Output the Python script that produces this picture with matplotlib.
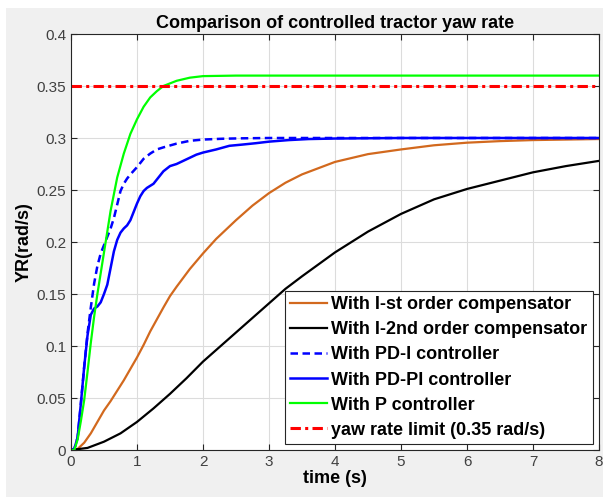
import matplotlib
matplotlib.use("Agg")
import matplotlib.pyplot as plt
from matplotlib.patches import Rectangle

plt.rcParams['font.family'] = ['Liberation Sans', 'DejaVu Sans']

# I-st order compensator
t_first = [0, 0.1, 0.2, 0.3, 0.4, 0.5, 0.6, 0.7, 0.8, 0.9, 1.0, 1.1, 1.2, 1.4, 1.5, 1.6, 1.8,
           2.0, 2.2, 2.5, 2.75, 3.0, 3.25, 3.5, 4.0, 4.5, 5.0, 5.5, 6.0, 6.5, 7.0, 8.0]
yr_first = [0, 0.001, 0.007, 0.016, 0.027, 0.038, 0.047, 0.057, 0.067, 0.078, 0.089, 0.101, 0.114,
            0.137, 0.148, 0.157, 0.174, 0.189, 0.203, 0.221, 0.235, 0.247, 0.257, 0.265, 0.277,
            0.2845, 0.289, 0.293, 0.2955, 0.297, 0.298, 0.299]

# I-2nd order compensator
t_second = [0, 0.25, 0.5, 0.75, 1.0, 1.25, 1.5, 1.75, 2.0, 2.25, 2.5, 2.75, 3.0, 3.25, 3.5,
            4.0, 4.5, 5.0, 5.5, 6.0, 6.5, 7.0, 7.5, 8.0]
yr_second = [0, 0.002, 0.008, 0.016, 0.027, 0.04, 0.054, 0.069, 0.085, 0.099, 0.113, 0.127,
             0.141, 0.155, 0.167, 0.19, 0.21, 0.227, 0.241, 0.251, 0.259, 0.267, 0.273, 0.278]

# PD-I controller
t_pdi = [0, 0.05, 0.1, 0.15, 0.2, 0.25, 0.3, 0.35, 0.4, 0.45, 0.5, 0.55, 0.6, 0.65, 0.7, 0.75,
         0.8, 0.85, 0.9, 1.0, 1.1, 1.2, 1.3, 1.4, 1.6, 1.8, 2.0, 2.3, 2.6, 3.0, 4.0, 8.0]
yr_pdi = [0, 0.001, 0.012, 0.045, 0.08, 0.112, 0.137, 0.16, 0.177, 0.189, 0.197, 0.205, 0.213,
          0.223, 0.236, 0.249, 0.256, 0.261, 0.265, 0.272, 0.28, 0.285, 0.289, 0.291, 0.2946,
          0.2973, 0.2985, 0.2993, 0.2997, 0.3, 0.3, 0.3]

# PD-PI controller
t_pdpi = [0, 0.05, 0.1, 0.15, 0.2, 0.25, 0.3, 0.35, 0.4, 0.45, 0.5, 0.55, 0.6, 0.65, 0.7, 0.75,
          0.8, 0.85, 0.9, 0.95, 1.0, 1.05, 1.1, 1.15, 1.2, 1.25, 1.3, 1.35, 1.4, 1.5, 1.6, 1.7,
          1.8, 1.9, 2.0, 2.2, 2.4, 2.6, 2.8, 3.0, 3.3, 3.6, 4.0, 5.0, 8.0]
yr_pdpi = [0, 0.001, 0.012, 0.045, 0.08, 0.11, 0.13, 0.136, 0.138, 0.142, 0.15, 0.159, 0.175,
           0.191, 0.202, 0.209, 0.213, 0.216, 0.221, 0.229, 0.237, 0.244, 0.249, 0.252, 0.254,
           0.256, 0.26, 0.264, 0.268, 0.273, 0.275, 0.278, 0.281, 0.284, 0.286, 0.289, 0.2925,
           0.2937, 0.295, 0.2965, 0.298, 0.299, 0.2995, 0.3, 0.3]

# P controller
t_p = [0, 0.05, 0.1, 0.15, 0.2, 0.25, 0.3, 0.35, 0.4, 0.5, 0.6, 0.7, 0.8, 0.9, 1.0, 1.1, 1.2,
       1.3, 1.4, 1.6, 1.8, 2.0, 2.5, 3.0, 8.0]
yr_p = [0, 0.0, 0.01, 0.028, 0.048, 0.075, 0.103, 0.128, 0.15, 0.19, 0.23, 0.262, 0.285, 0.304,
        0.318, 0.33, 0.339, 0.345, 0.35, 0.355, 0.358, 0.3595, 0.36, 0.36, 0.36]

yr_limit = 0.35
t_limit = [0, 8]

fig = plt.figure(figsize=(6.05, 5.01), dpi=100, facecolor='white')
fig.patches.append(Rectangle((6 / 605, 4 / 501), 597 / 605, 489 / 501, transform=fig.transFigure,
                             facecolor='#f0f0f0', edgecolor='none', zorder=-10))
ax = fig.add_axes([71 / 605, 51 / 501, 528 / 605, 416 / 501])

ax.plot(t_first, yr_first, color='#d2691e', lw=1.6, label='With I-st order compensator')
ax.plot(t_second, yr_second, color='black', lw=1.6, label='With I-2nd order compensator')
ax.plot(t_pdi, yr_pdi, color='#0000ff', lw=1.8, dashes=(3, 1.8), label='With PD-I controller')
ax.plot(t_pdpi, yr_pdpi, color='#0000ff', lw=1.8, label='With PD-PI controller')
ax.plot(t_p, yr_p, color='#00ff00', lw=1.6, label='With P controller')
ax.plot(t_limit, [yr_limit, yr_limit], color='#ff0000', lw=2.2, dashes=(3.4, 1.4, 1.0, 1.4),
        label='yaw rate limit (0.35 rad/s)')

ax.set_xlim(0, 8)
ax.set_ylim(0, 0.4)
ax.set_xticks(range(0, 9))
ax.set_yticks([0, 0.05, 0.1, 0.15, 0.2, 0.25, 0.3, 0.35, 0.4])
ax.set_yticklabels(['0', '0.05', '0.1', '0.15', '0.2', '0.25', '0.3', '0.35', '0.4'])
ax.tick_params(direction='in', top=True, right=True, labelsize=11, colors='#262626',
               labelcolor='#404040', length=4)
ax.grid(True, color='#dcdcdc', lw=0.8)
for s in ax.spines.values():
    s.set_color('#262626')
    s.set_linewidth(0.8)

ax.set_title('Comparison of controlled tractor yaw rate', fontsize=13, fontweight='bold', pad=4)
ax.set_xlabel('time (s)', fontsize=13, fontweight='bold', labelpad=1)
ax.set_ylabel('YR(rad/s)', fontsize=13, fontweight='bold', labelpad=3)

leg = ax.legend(loc='lower right', bbox_to_anchor=(0.988, 0.014),
                prop={'weight': 'bold', 'size': 13}, fancybox=False, framealpha=1,
                edgecolor='#262626', handlelength=2.0, handletextpad=0.25, labelspacing=0.45,
                borderpad=0.3, borderaxespad=0)
leg.get_frame().set_linewidth(0.8)

fig.savefig('out.png', dpi=100, facecolor=fig.get_facecolor())
